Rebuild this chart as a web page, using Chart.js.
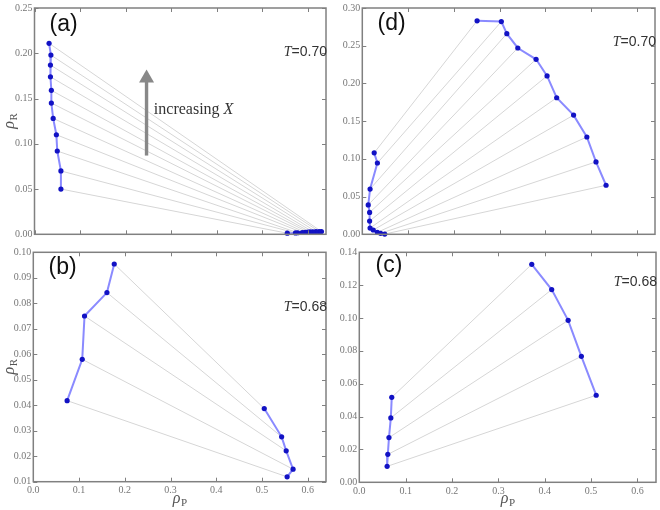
<!DOCTYPE html>
<html>
<head>
<meta charset="utf-8">
<script src="https://cdn.jsdelivr.net/npm/chart.js@4.4.0/dist/chart.umd.min.js"></script>
<style>
  body { margin: 0; background: #fff; }
  #wrap { position: relative; width: 660px; height: 510px; overflow: hidden; }
  canvas { position: absolute; }
</style>
</head>
<body>
<div id="wrap">
  <canvas id="pa" width="330" height="250" style="left:0;top:0"></canvas>
  <canvas id="pd" width="330" height="250" style="left:330px;top:0"></canvas>
  <canvas id="pb" width="330" height="270" style="left:0;top:240px"></canvas>
  <canvas id="pc" width="330" height="270" style="left:330px;top:240px"></canvas>
</div>
<script>
// panel (a), T=0.70 : left branch / right branch, tie lines join point i to point i
const aLeftX = [0.032, 0.036, 0.035, 0.035, 0.037, 0.037, 0.041, 0.048, 0.050, 0.058, 0.058];
const aLeftY = [0.211, 0.198, 0.187, 0.174, 0.159, 0.145, 0.128, 0.110, 0.092, 0.070, 0.050];
const aRightX = [0.630, 0.625, 0.618, 0.611, 0.605, 0.600, 0.594, 0.588, 0.578, 0.573, 0.555];
const aRightY = [0.0030, 0.0030, 0.0029, 0.0028, 0.0027, 0.0025, 0.0022, 0.0020, 0.0017, 0.0015, 0.0012];

// panel (d), T=0.70
const dLeftX = [0.026, 0.033, 0.017, 0.013, 0.016, 0.016, 0.017, 0.024, 0.033, 0.040, 0.049];
const dLeftY = [0.108, 0.0945, 0.060, 0.039, 0.029, 0.0175, 0.0083, 0.0057, 0.0026, 0.0013, 0.0003];
const dRightX = [0.251, 0.304, 0.316, 0.340, 0.380, 0.404, 0.425, 0.462, 0.491, 0.511, 0.533];
const dRightY = [0.283, 0.282, 0.266, 0.247, 0.232, 0.210, 0.181, 0.158, 0.129, 0.096, 0.065];

// panel (b), T=0.68
const bLeftX = [0.177, 0.161, 0.112, 0.107, 0.074];
const bLeftY = [0.0954, 0.0842, 0.0750, 0.0580, 0.0418];
const bRightX = [0.505, 0.543, 0.553, 0.568, 0.555];
const bRightY = [0.0387, 0.0276, 0.0221, 0.0149, 0.0119];

// panel (c), T=0.68
const cLeftX = [0.070, 0.068, 0.064, 0.0615, 0.060];
const cLeftY = [0.0517, 0.0392, 0.0272, 0.0170, 0.0097];
const cRightX = [0.372, 0.415, 0.4505, 0.479, 0.511];
const cRightY = [0.1327, 0.1173, 0.0986, 0.0767, 0.0530];

// axis ranges / ticks
const xRange = [0, 0.64];
const xStep = 0.1;
const aYRange = [0, 0.25], aYStep = 0.05;
const dYRange = [0, 0.30], dYStep = 0.05;
const bYRange = [0.01, 0.10], bYStep = 0.01;
const cYRange = [0, 0.14], cYStep = 0.02;

// labels
const panelTags = ['(a)', '(d)', '(b)', '(c)'];
const tempLabels = ['0.70', '0.70', '0.68', '0.68'];
const arrowText = 'increasing ';
const arrowVar = 'X';
// arrow in panel (a), data coords
const arrowX = 0.246, arrowFrom = 0.087, arrowTo = 0.182;
const arrowTextX = 0.262, arrowTextY = 0.138;

const tickFont = { family: 'Liberation Serif', size: 10 };

function drawRho(ctx, x, y, sub) {
  ctx.font = 'italic 16px "Liberation Serif"';
  const w1 = ctx.measureText('ρ').width;
  ctx.font = '11px "Liberation Serif"';
  const w2 = ctx.measureText(sub).width;
  const x0 = x - (w1 + w2) / 2;
  ctx.textAlign = 'left';
  ctx.textBaseline = 'alphabetic';
  ctx.font = 'italic 16px "Liberation Serif"';
  ctx.fillText('ρ', x0, y);
  ctx.font = '11px "Liberation Serif"';
  ctx.fillText(sub, x0 + w1 + 0.5, y + 3);
}

function decoPlugin(p) {
  return {
    id: 'deco',
    afterDraw(chart) {
      const ctx = chart.ctx, a = chart.chartArea;
      const xs = chart.scales.x, ys = chart.scales.y;
      ctx.save();
      // inward tick marks on all four sides
      ctx.strokeStyle = '#808080';
      ctx.lineWidth = 1;
      ctx.beginPath();
      xs.ticks.forEach(t => {
        const px = Math.round(xs.getPixelForValue(t.value)) + 0.5;
        ctx.moveTo(px, a.bottom); ctx.lineTo(px, a.bottom - 4);
        ctx.moveTo(px, a.top); ctx.lineTo(px, a.top + 4);
      });
      ys.ticks.forEach(t => {
        const py = Math.round(ys.getPixelForValue(t.value)) + 0.5;
        ctx.moveTo(a.left, py); ctx.lineTo(a.left + 4, py);
        ctx.moveTo(a.right, py); ctx.lineTo(a.right - 4, py);
      });
      ctx.stroke();
      ctx.lineWidth = 1.5;
      ctx.strokeRect(a.left, a.top, a.right - a.left, a.bottom - a.top);

      // panel tag
      ctx.fillStyle = '#111';
      ctx.font = '23px "Liberation Sans"';
      ctx.textAlign = 'center';
      ctx.textBaseline = 'middle';
      ctx.fillText(p.tag, a.left + (a.right - a.left) * 0.1, a.top + (a.bottom - a.top) * p.tagY);

      // temperature label, right aligned on the frame
      ctx.fillStyle = '#333';
      ctx.textBaseline = 'middle';
      ctx.textAlign = 'left';
      ctx.font = '14px "Liberation Sans"';
      const rest = '=' + p.temp;
      const wr = ctx.measureText(rest).width;
      ctx.font = 'italic 14px "Liberation Serif"';
      const wt = ctx.measureText('T').width;
      const ty = a.top + (a.bottom - a.top) * p.tempY;
      const tx = a.right + 1 - wr - wt;
      ctx.fillText('T', tx, ty);
      ctx.font = '14px "Liberation Sans"';
      ctx.fillText(rest, tx + wt, ty);

      ctx.fillStyle = '#555';
      if (p.yTitle) {
        ctx.save();
        ctx.translate(14, (a.top + a.bottom) / 2);
        ctx.rotate(-Math.PI / 2);
        drawRho(ctx, 0, 0, 'R');
        ctx.restore();
      }
      if (p.xTitle) {
        drawRho(ctx, (a.left + a.right) / 2, a.bottom + 21, 'P');
      }

      if (p.arrow) {
        const ax = xs.getPixelForValue(arrowX);
        const y0 = ys.getPixelForValue(arrowFrom);
        const y1 = ys.getPixelForValue(arrowTo);
        ctx.fillStyle = '#888';
        ctx.fillRect(ax - 1.7, y1 + 12, 3.4, y0 - y1 - 12);
        ctx.beginPath();
        ctx.moveTo(ax - 7.5, y1 + 13);
        ctx.lineTo(ax + 7.5, y1 + 13);
        ctx.lineTo(ax, y1);
        ctx.closePath();
        ctx.fill();
        ctx.fillStyle = '#333';
        ctx.textAlign = 'left';
        ctx.textBaseline = 'middle';
        ctx.font = '16px "Liberation Serif"';
        const tX = xs.getPixelForValue(arrowTextX), tY = ys.getPixelForValue(arrowTextY);
        ctx.fillText(arrowText, tX, tY);
        const w = ctx.measureText(arrowText).width;
        ctx.font = 'italic 16px "Liberation Serif"';
        ctx.fillText(arrowVar, tX + w, tY);
      }
      ctx.restore();
    }
  };
}

function branch(xs, ys) {
  return {
    data: xs.map((x, i) => ({ x: x, y: ys[i] })),
    showLine: true,
    borderColor: 'rgba(60,60,255,0.6)',
    borderWidth: 2,
    pointRadius: 2.6,
    pointBackgroundColor: '#1212c4',
    pointBorderWidth: 0,
    clip: false,
    order: 1
  };
}

function makePanel(id, lx, ly, rx, ry, yRange, yStep, cfg) {
  const ties = lx.map((x, i) => ({
    data: [{ x: x, y: ly[i] }, { x: rx[i], y: ry[i] }],
    showLine: true,
    borderColor: '#d6d6d6',
    borderWidth: 1,
    pointRadius: 0,
    order: 2
  }));
  new Chart(document.getElementById(id), {
    type: 'scatter',
    data: { datasets: [branch(lx, ly), branch(rx, ry)].concat(ties) },
    options: {
      responsive: false,
      animation: false,
      devicePixelRatio: 1,
      layout: { padding: { top: cfg.top, right: cfg.right, left: 0, bottom: 0 } },
      plugins: { legend: { display: false }, tooltip: { enabled: false } },
      scales: {
        x: {
          type: 'linear',
          min: xRange[0], max: xRange[1],
          grid: { display: false, drawTicks: false },
          border: { display: false },
          ticks: {
            display: cfg.xLabels, stepSize: xStep, includeBounds: false,
            padding: 3, color: '#777', font: tickFont, maxRotation: 0, autoSkip: false,
            callback: v => v.toFixed(1)
          },
          afterFit: s => { s.height = cfg.xh; }
        },
        y: {
          type: 'linear',
          min: yRange[0], max: yRange[1],
          grid: { display: false, drawTicks: false },
          border: { display: false },
          ticks: {
            stepSize: yStep, includeBounds: false, padding: 2, color: '#777',
            font: tickFont, autoSkip: false, callback: v => v.toFixed(2)
          },
          afterFit: s => { s.width = cfg.yw; }
        }
      }
    },
    plugins: [decoPlugin(cfg.deco)]
  });
}

makePanel('pa', aLeftX, aLeftY, aRightX, aRightY, aYRange, aYStep, {
  top: 5.7, right: 1.5, yw: 34.5, xh: 15.7, xLabels: false,
  deco: { tag: panelTags[0], tagY: 0.073, temp: tempLabels[0], tempY: 0.195, yTitle: true, xTitle: false, arrow: true }
});
makePanel('pd', dLeftX, dLeftY, dRightX, dRightY, dYRange, dYStep, {
  top: 5.7, right: 5, yw: 32.3, xh: 15.7, xLabels: false,
  deco: { tag: panelTags[1], tagY: 0.071, temp: tempLabels[1], tempY: 0.15, yTitle: false, xTitle: false, arrow: false }
});
makePanel('pb', bLeftX, bLeftY, bRightX, bRightY, bYRange, bYStep, {
  top: 12.3, right: 2, yw: 33.3, xh: 28.3, xLabels: true,
  deco: { tag: panelTags[2], tagY: 0.068, temp: tempLabels[2], tempY: 0.24, yTitle: true, xTitle: true, arrow: false }
});
makePanel('pc', cLeftX, cLeftY, cRightX, cRightY, cYRange, cYStep, {
  top: 12.3, right: 4, yw: 29.3, xh: 27.7, xLabels: true,
  deco: { tag: panelTags[3], tagY: 0.058, temp: tempLabels[3], tempY: 0.13, yTitle: false, xTitle: true, arrow: false }
});
</script>
</body>
</html>
